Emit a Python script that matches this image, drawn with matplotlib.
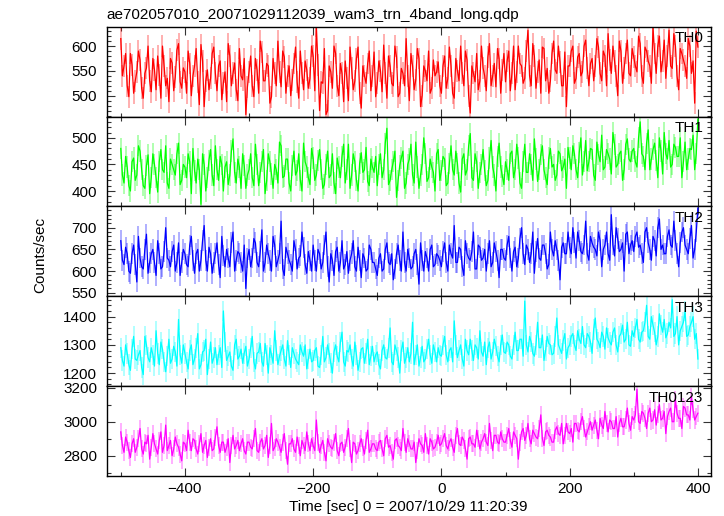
import numpy as np
import matplotlib
matplotlib.use("Agg")
import matplotlib.pyplot as plt
from matplotlib.ticker import MultipleLocator

plt.rcParams['font.family'] = ['Liberation Sans', 'DejaVu Sans']

title = "ae702057010_20071029112039_wam3_trn_4band_long.qdp"
names = ["TH0", "TH1", "TH2", "TH3", "TH0123"]
colors = ["#ff0000", "#00ff00", "#0000ff", "#00ffff", "#ff00ff"]

# time bins (sec): main values every 5 s from -500 to 400,
# mid values at the half steps (-497.5 ... 397.5)
t_start, t_step = -500, 5

th0 = [615, 560, 520, 585, 505, 548, 572, 495, 556, 530, 575, 512, 542, 600, 520, 488, 566, 538, 605, 515,
       548, 590, 500, 560, 528, 603, 478, 552, 535, 598, 510, 570, 526, 488, 580, 545, 512, 595, 532, 462,
       548, 520, 575, 505, 588, 530, 560, 498, 545, 610, 518, 578, 540, 500, 565, 528, 590, 512, 552, 535,
       580, 640, 470, 525, 462, 560, 515, 585, 500, 545, 570, 490, 555, 530, 598, 475, 540, 565, 510, 588,
       525, 550, 602, 495, 560, 520, 578, 505, 545, 615, 490, 560, 532, 575, 500, 550, 590, 515, 540, 568,
       505, 580, 535, 560, 495, 550, 600, 520, 572, 465, 545, 585, 530, 556, 510, 605, 540, 518, 575, 552,
       528, 590, 545, 512, 600, 560, 535, 632, 520, 580, 548, 505, 595, 555, 530, 610, 545, 568, 520, 478,
       560, 600, 535, 585, 548, 612, 520, 575, 560, 598, 530, 580, 625, 545, 570, 500, 590, 556, 612, 540,
       578, 548, 605, 525, 590, 560, 638, 545, 620, 570, 535, 632, 555, 600, 512, 585, 560, 615, 545, 485,
       598]
th0_mid = [540, 585, 498, 562, 530, 590, 515, 545, 600, 508, 552, 580, 495, 560, 535, 575, 510, 592, 528, 556,
           505, 565, 540, 595, 482, 570, 530, 512, 585, 545, 560, 492, 548, 605, 520, 566, 490, 540, 575, 518,
           580, 498, 552, 610, 530, 565, 485, 575, 520, 548, 590, 505, 560, 532, 598, 495, 545, 570, 515, 600,
           510, 562, 528, 595, 470, 548, 600, 520, 565, 488, 535, 598, 512, 575, 505, 560, 525, 590, 540, 498,
           570, 508, 545, 580, 525, 600, 498, 555, 520, 540, 585, 512, 595, 478, 560, 530, 505, 572, 548, 520,
           560, 515, 598, 505, 575, 530, 545, 590, 500, 560, 528, 512, 600, 540, 578, 520, 565, 595, 505, 585,
           570, 510, 600, 548, 565, 525, 590, 540, 605, 515, 572, 598, 530, 505, 585, 552, 600, 520, 588, 560,
           590, 525, 578, 540, 600, 555, 565, 530, 615, 545, 590, 520, 572, 600, 540, 610, 525, 585, 545, 595,
           560, 620, 540, 598, 570, 525, 585, 600, 548, 612, 580, 560, 625, 540, 595, 572, 535, 600, 570, 630]

th1 = [480, 415, 445, 400, 462, 430, 475, 410, 448, 395, 470, 425, 455, 440, 485, 405, 450, 430, 490, 420,
       445, 470, 395, 438, 460, 375, 450, 425, 478, 410, 440, 465, 400, 455, 430, 498, 415, 445, 470, 405,
       440, 425, 488, 410, 455, 395, 470, 432, 450, 415, 485, 428, 460, 400, 475, 438, 420, 490, 445, 412,
       462, 430, 478, 405, 450, 425, 470, 395, 445, 465, 415, 488, 430, 455, 400, 472, 440, 418, 460, 435,
       410, 470, 440, 518, 420, 455, 388, 448, 475, 415, 460, 430, 492, 405, 450, 470, 425, 445, 400, 478,
       438, 460, 415, 485, 430, 452, 398, 470, 440, 508, 420, 455, 435, 478, 410, 462, 445, 400, 490, 428,
       455, 420, 475, 440, 462, 405, 488, 435, 450, 498, 418, 468, 440, 412, 480, 450, 430, 470, 445, 405,
       462, 485, 440, 472, 430, 495, 455, 478, 420, 468, 505, 445, 470, 432, 488, 450, 475, 440, 498, 455,
       480, 445, 530, 465, 490, 440, 478, 458, 500, 432, 470, 495, 450, 482, 465, 425, 492, 460, 478, 440,
       535]
th1_mid = [430, 465, 410, 455, 420, 485, 440, 405, 468, 425, 450, 398, 478, 435, 415, 460, 440, 470, 412, 450,
           425, 455, 480, 415, 440, 470, 400, 458, 430, 485, 420, 450, 445, 412, 475, 435, 460, 405, 448, 430,
           470, 410, 450, 435, 478, 420, 455, 405, 440, 492, 425, 460, 415, 448, 430, 470, 400, 455, 425, 480,
           420, 458, 440, 412, 475, 430, 415, 462, 425, 488, 440, 405, 470, 420, 452, 435, 482, 410, 445, 465,
           450, 425, 490, 412, 440, 475, 420, 462, 405, 450, 488, 415, 445, 430, 500, 418, 460, 435, 470, 420,
           465, 410, 452, 440, 475, 415, 460, 430, 485, 425, 470, 405, 450, 438, 420, 495, 430, 465, 445, 412,
           440, 470, 425, 488, 415, 455, 435, 470, 420, 460, 440, 485, 425, 462, 445, 420, 475, 438, 460, 482,
           440, 470, 425, 500, 455, 438, 480, 430, 492, 455, 440, 478, 460, 510, 445, 470, 420, 488, 460, 475,
           455, 500, 470, 440, 515, 460, 490, 425, 475, 510, 460, 445, 488, 465, 500, 455, 440, 480, 505, 470]

th2 = [670, 615, 640, 595, 660, 575, 630, 605, 685, 620, 650, 590, 640, 610, 700, 625, 645, 600, 665, 620,
       640, 610, 680, 595, 650, 625, 705, 600, 640, 620, 665, 585, 635, 650, 610, 690, 625, 640, 600, 560,
       650, 630, 665, 610, 695, 620, 640, 600, 660, 625, 715, 590, 640, 615, 670, 605, 635, 655, 595, 625,
       660, 600, 640, 620, 690, 575, 625, 645, 600, 670, 615, 595, 640, 610, 655, 585, 630, 605, 650, 620,
       590, 640, 605, 665, 615, 580, 640, 625, 690, 600, 630, 610, 650, 570, 625, 645, 600, 660, 615, 635,
       610, 665, 600, 640, 705, 620, 650, 590, 640, 625, 690, 605, 655, 630, 600, 670, 620, 645, 585, 650,
       625, 680, 600, 655, 630, 700, 615, 650, 640, 595, 675, 625, 660, 605, 690, 635, 650, 580, 665, 640,
       655, 700, 630, 670, 640, 715, 625, 665, 650, 690, 610, 660, 640, 730, 635, 675, 650, 600, 690, 660,
       645, 690, 660, 620, 700, 650, 680, 635, 720, 660, 640, 695, 655, 670, 610, 690, 660, 640, 705, 650,
       745]
th2_mid = [625, 655, 600, 640, 615, 680, 610, 650, 595, 640, 620, 670, 605, 645, 630, 610, 660, 620, 590, 650,
           615, 660, 625, 640, 600, 670, 625, 655, 595, 640, 615, 680, 610, 630, 665, 600, 645, 620, 660, 630,
           610, 675, 620, 645, 600, 660, 625, 680, 610, 640, 605, 655, 625, 600, 650, 630, 690, 615, 645, 600,
           625, 650, 605, 660, 610, 640, 590, 655, 620, 605, 645, 625, 670, 600, 625, 640, 600, 660, 620, 605,
           630, 600, 650, 620, 640, 605, 660, 600, 620, 650, 605, 640, 615, 665, 600, 630, 650, 610, 640, 625,
           645, 620, 660, 630, 620, 655, 610, 670, 630, 645, 605, 660, 625, 650, 640, 610, 665, 625, 650, 630,
           660, 630, 645, 610, 675, 640, 660, 620, 690, 645, 630, 660, 640, 615, 650, 670, 625, 655, 640, 690,
           640, 665, 690, 645, 660, 640, 680, 655, 635, 670, 650, 690, 625, 660, 700, 645, 665, 685, 640, 670,
           680, 655, 640, 690, 665, 625, 670, 700, 650, 640, 680, 660, 715, 640, 665, 700, 650, 675, 630, 690]

th3 = [1290, 1225, 1270, 1210, 1330, 1245, 1280, 1195, 1300, 1240, 1265, 1350, 1230, 1285, 1205, 1320, 1250, 1275, 1390, 1235,
       1270, 1215, 1300, 1250, 1340, 1230, 1280, 1195, 1310, 1255, 1230, 1290, 1420, 1245, 1275, 1210, 1320, 1260, 1235, 1295,
       1250, 1330, 1215, 1275, 1240, 1305, 1200, 1265, 1350, 1230, 1280, 1250, 1315, 1220, 1270, 1240, 1300, 1260, 1215, 1285,
       1245, 1290, 1220, 1330, 1255, 1270, 1200, 1300, 1240, 1345, 1225, 1275, 1250, 1310, 1210, 1285, 1235, 1320, 1260, 1240,
       1275, 1215, 1300, 1250, 1360, 1230, 1280, 1200, 1310, 1255, 1240, 1380, 1265, 1225, 1295, 1250, 1320, 1235, 1275, 1290,
       1260, 1330, 1240, 1290, 1385, 1255, 1300, 1225, 1280, 1320, 1245, 1290, 1350, 1260, 1230, 1310, 1275, 1295, 1240, 1335,
       1270, 1300, 1250, 1345, 1280, 1320, 1455, 1275, 1310, 1260, 1380, 1290, 1245, 1330, 1300, 1270, 1395, 1285, 1315, 1250,
       1300, 1340, 1280, 1320, 1365, 1290, 1330, 1270, 1395, 1310, 1345, 1285, 1325, 1300, 1360, 1275, 1340, 1310, 1380, 1295,
       1330, 1390, 1310, 1350, 1440, 1320, 1370, 1300, 1410, 1345, 1325, 1380, 1460, 1340, 1300, 1365, 1420, 1335, 1380, 1320,
       1250]
th3_mid = [1245, 1300, 1230, 1285, 1250, 1265, 1220, 1330, 1255, 1290, 1225, 1270, 1310, 1240, 1260, 1235, 1295, 1225, 1265, 1300,
           1240, 1280, 1230, 1290, 1215, 1275, 1320, 1250, 1235, 1290, 1265, 1220, 1310, 1260, 1225, 1300, 1250, 1285, 1270, 1225,
           1290, 1240, 1270, 1305, 1225, 1265, 1290, 1235, 1280, 1260, 1300, 1225, 1265, 1290, 1250, 1230, 1275, 1300, 1250, 1240,
           1280, 1225, 1265, 1240, 1300, 1235, 1275, 1260, 1310, 1240, 1280, 1300, 1225, 1265, 1240, 1290, 1270, 1230, 1295, 1265,
           1230, 1280, 1255, 1290, 1240, 1300, 1255, 1280, 1235, 1290, 1270, 1230, 1300, 1255, 1240, 1285, 1265, 1300, 1240, 1265,
           1300, 1265, 1280, 1240, 1300, 1280, 1250, 1320, 1265, 1280, 1300, 1250, 1275, 1310, 1290, 1250, 1320, 1260, 1300, 1275,
           1310, 1260, 1300, 1280, 1320, 1260, 1300, 1330, 1270, 1300, 1290, 1335, 1280, 1305, 1265, 1330, 1300, 1270, 1340, 1290,
           1330, 1300, 1350, 1305, 1300, 1340, 1310, 1355, 1320, 1290, 1330, 1360, 1310, 1345, 1300, 1330, 1370, 1320, 1300, 1350,
           1360, 1320, 1345, 1380, 1330, 1400, 1345, 1330, 1370, 1390, 1340, 1360, 1330, 1400, 1350, 1380, 1330, 1365, 1400, 1340]

th0123 = [2940, 2820, 2880, 2790, 2900, 2850, 2960, 2810, 2870, 2780, 2930, 2840, 2890, 2820, 2980, 2860, 2800, 2910, 2850, 2770,
          2870, 2950, 2830, 2890, 2810, 2930, 2860, 2790, 2900, 2840, 2970, 2820, 2880, 2850, 2760, 2920, 2860, 2830, 2900, 2810,
          2880, 2840, 2960, 2820, 2900, 2860, 2790, 2990, 2850, 2880, 2820, 2930, 2750, 2870, 2840, 2910, 2800, 2860, 2940, 2830,
          2860, 3010, 2820, 2890, 2770, 2870, 2840, 2930, 2800, 2880, 2850, 2960, 2760, 2870, 2830, 2900, 2810, 2950, 2840, 2870,
          2830, 2890, 2800, 2920, 2860, 2780, 2900, 2850, 2960, 2820, 2870, 2840, 2760, 2900, 2860, 2930, 2810, 2880, 2850, 2920,
          2870, 2930, 2840, 2900, 2820, 2960, 2860, 2890, 2780, 2910, 2870, 2950, 2840, 2900, 2880, 2990, 2830, 2920, 2870, 2900,
          2880, 2960, 2850, 2920, 2780, 2940, 2890, 2990, 2870, 2930, 2900, 3040, 2860, 2950, 2910, 2880, 2970, 2920, 2870, 2990,
          2930, 2880, 2990, 2940, 3030, 2910, 2970, 2950, 3010, 2900, 2980, 3060, 2940, 3000, 2960, 2910, 3020, 2970, 3080, 2950,
          3010, 3190, 2990, 3050, 2960, 3080, 3010, 2980, 3100, 3020, 2930, 3060, 3000, 3130, 3020, 2960, 3080, 3040, 3150, 3010,
          3050]
th0123_mid = [2860, 2910, 2830, 2870, 2820, 2900, 2840, 2880, 2920, 2850, 2870, 2810, 2940, 2860, 2830, 2890, 2840, 2870, 2810, 2880,
              2830, 2880, 2900, 2840, 2870, 2820, 2890, 2850, 2830, 2910, 2860, 2880, 2820, 2900, 2860, 2840, 2890, 2870, 2830, 2880,
              2850, 2900, 2830, 2880, 2840, 2920, 2860, 2830, 2900, 2850, 2880, 2830, 2870, 2900, 2820, 2860, 2890, 2830, 2870, 2900,
              2830, 2880, 2860, 2820, 2900, 2850, 2880, 2830, 2870, 2820, 2900, 2840, 2880, 2810, 2870, 2850, 2890, 2820, 2870, 2840,
              2880, 2840, 2900, 2850, 2820, 2890, 2860, 2830, 2880, 2900, 2840, 2880, 2830, 2870, 2820, 2860, 2900, 2840, 2880, 2860,
              2900, 2860, 2880, 2850, 2920, 2870, 2910, 2840, 2900, 2870, 2850, 2900, 2880, 2930, 2860, 2890, 2920, 2880, 2940, 2880,
              2920, 2890, 2940, 2900, 2880, 2960, 2920, 2900, 2950, 2910, 2960, 2900, 2940, 2920, 2880, 2950, 2930, 2990, 2920, 2940,
              2960, 2990, 2950, 3000, 2960, 2940, 3000, 2980, 2950, 3020, 2960, 2990, 3010, 2960, 3030, 2990, 2970, 3010, 2990, 3030,
              3040, 3000, 3060, 3020, 3050, 3000, 3070, 3040, 3010, 3060, 3030, 3080, 3000, 3050, 3020, 3090, 3040, 3010, 3070, 3030]

series = [(th0, th0_mid), (th1, th1_mid), (th2, th2_mid), (th3, th3_mid), (th0123, th0123_mid)]
errors = [22, 20, 24, 36, 50]

ylims = [(458, 639), (371, 540), (542, 749), (1154, 1472), (2681, 3209)]
ymajor = [50, 50, 50, 100, 200]
yminor = [10, 10, 10, 20, 100]

W, H = 724, 516
fig = plt.figure(figsize=(W / 100, H / 100), dpi=100)

left, right = 106.7, 710.7
top, bottom = 26.7, 476.0
ph = (bottom - top) / 5

for i in range(5):
    y0 = top + i * ph
    ax = fig.add_axes([left / W, (H - y0 - ph) / H, (right - left) / W, ph / H])
    main, mid = series[i]
    vals = np.empty(len(main) + len(mid))
    vals[0::2] = main
    vals[1::2] = mid
    t = t_start + (t_step / 2) * np.arange(len(vals))
    ax.errorbar(t, vals, yerr=errors[i], fmt='none', ecolor=colors[i],
                elinewidth=1.1, alpha=0.4)
    ax.plot(t, vals, color=colors[i], lw=0.9)
    ax.set_xlim(-522, 420)
    ax.set_ylim(*ylims[i])
    ax.yaxis.set_major_locator(MultipleLocator(ymajor[i]))
    ax.yaxis.set_minor_locator(MultipleLocator(yminor[i]))
    ax.xaxis.set_major_locator(MultipleLocator(200))
    ax.xaxis.set_minor_locator(MultipleLocator(100))
    ax.tick_params(which='both', direction='in', top=True, right=True,
                   labelsize=11, width=0.8, color='#333333')
    ax.tick_params(which='major', length=6, pad=7)
    ax.tick_params(axis='x', which='major', pad=4)
    ax.tick_params(which='minor', length=3)
    for s in ax.spines.values():
        s.set_linewidth(1.0)
    if i < 4:
        ax.tick_params(labelbottom=False)
    ax.text(0.988, 0.95, names[i], transform=ax.transAxes, ha='right', va='top',
            fontsize=11)

fig.text(left / W, 1 - 15 / H, title, ha='left', va='center', fontsize=11)
fig.text(40 / W, 1 - 255 / H, "Counts/sec", rotation=90, ha='center', va='center', fontsize=11)
fig.text((left + right) / 2 / W, 1 - 507 / H, "Time [sec] 0 = 2007/10/29 11:20:39",
         ha='center', va='center', fontsize=11)

fig.savefig("out.png", dpi=100)
